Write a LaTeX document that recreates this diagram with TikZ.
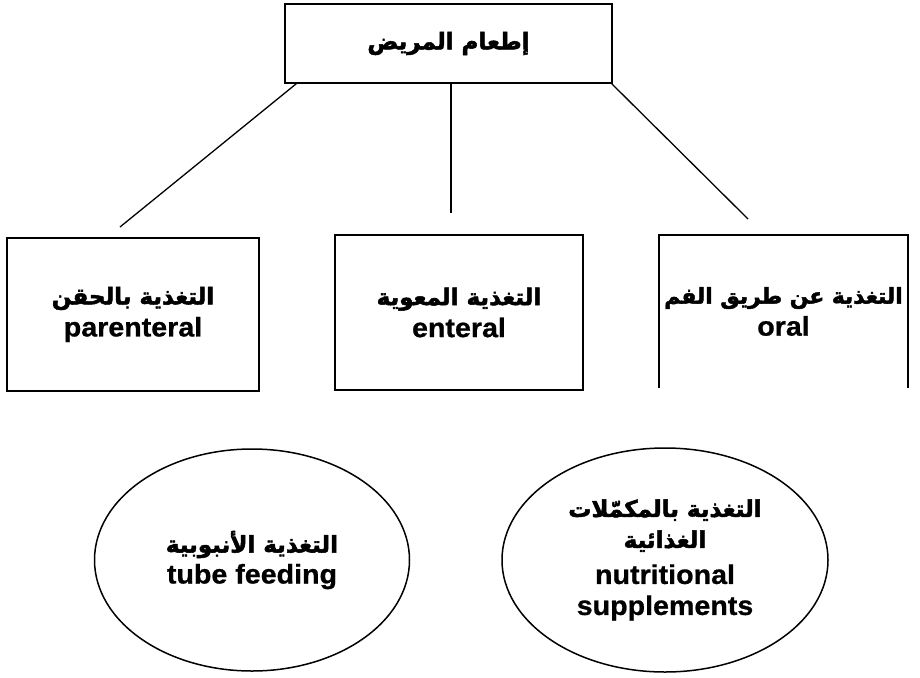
\documentclass[tikz,border=0pt]{standalone}
\usepackage{fontspec}
\usetikzlibrary{shapes.geometric}
\TeXXeTstate=1
\newfontfamily\arfont[Script=Arabic,FakeBold=2.2]{DejaVu Sans}
\newfontfamily\enfont[FakeStretch=1.06,FakeBold=0.8]{Liberation Sans}
\newcommand{\artxt}[2][23]{{\arfont\bfseries\fontsize{#1}{32}\selectfont\beginR #2\endR}}
\newcommand{\entxt}[1]{{\enfont\bfseries\fontsize{27}{32}\selectfont #1}}
\begin{document}
\begin{tikzpicture}[x=1pt,y=-1pt,
  box/.style={draw, line width=1.6pt, inner sep=0pt, align=center, font=\fontsize{27}{32}\selectfont},
  openbox/.style={inner sep=0pt, align=center, font=\fontsize{27}{32}\selectfont},
  oval/.style={ellipse, draw, line width=1.5pt, inner sep=0pt, align=center, font=\fontsize{27}{31}\selectfont},
  conn/.style={line width=1.3pt}]
\useasboundingbox[fill=white] (0,0) rectangle (920,677);

\node[box, minimum width=327pt, minimum height=79pt] (top) at (448.5,43.5) {\artxt{إطعام المريض}};

\node[box, minimum width=252pt, minimum height=153pt] (par) at (133,314.5)
  {\artxt{التغذية بالحقن}\\\entxt{parenteral}};
\node[box, minimum width=248pt, minimum height=155pt] (ent) at (459,312.5)
  {\artxt{التغذية المعوية}\\\entxt{enteral}};
\node[openbox, minimum width=249pt, minimum height=153pt] (ora) at (783.5,311.5)
  {\artxt[21.8]{التغذية عن طريق الفم}\\\entxt{oral}};
\draw[line width=1.6pt] (ora.south west) -- (ora.north west) -- (ora.north east) -- (ora.south east);

\coordinate (lend) at (120,227);
\coordinate (mend) at (451,213);
\coordinate (rend) at (748,219);
\draw[conn] ([xshift=12pt]top.south west) -- (lend);
\draw[conn] ([xshift=2.5pt]top.south) -- (mend);
\draw[conn] ([xshift=-1pt]top.south east) -- (rend);

\node[oval, minimum width=315pt, minimum height=222pt] (tube) at (252,560)
  {\artxt{التغذية الأنبوبية}\\\entxt{tube feeding}};
\node[oval, minimum width=326pt, minimum height=224pt] (supp) at (665,560)
  {\artxt{التغذية بالمكمّلات}\\\artxt{الغذائية}\\[5pt]\entxt{nutritional}\\\entxt{supplements}};
\end{tikzpicture}
\end{document}
